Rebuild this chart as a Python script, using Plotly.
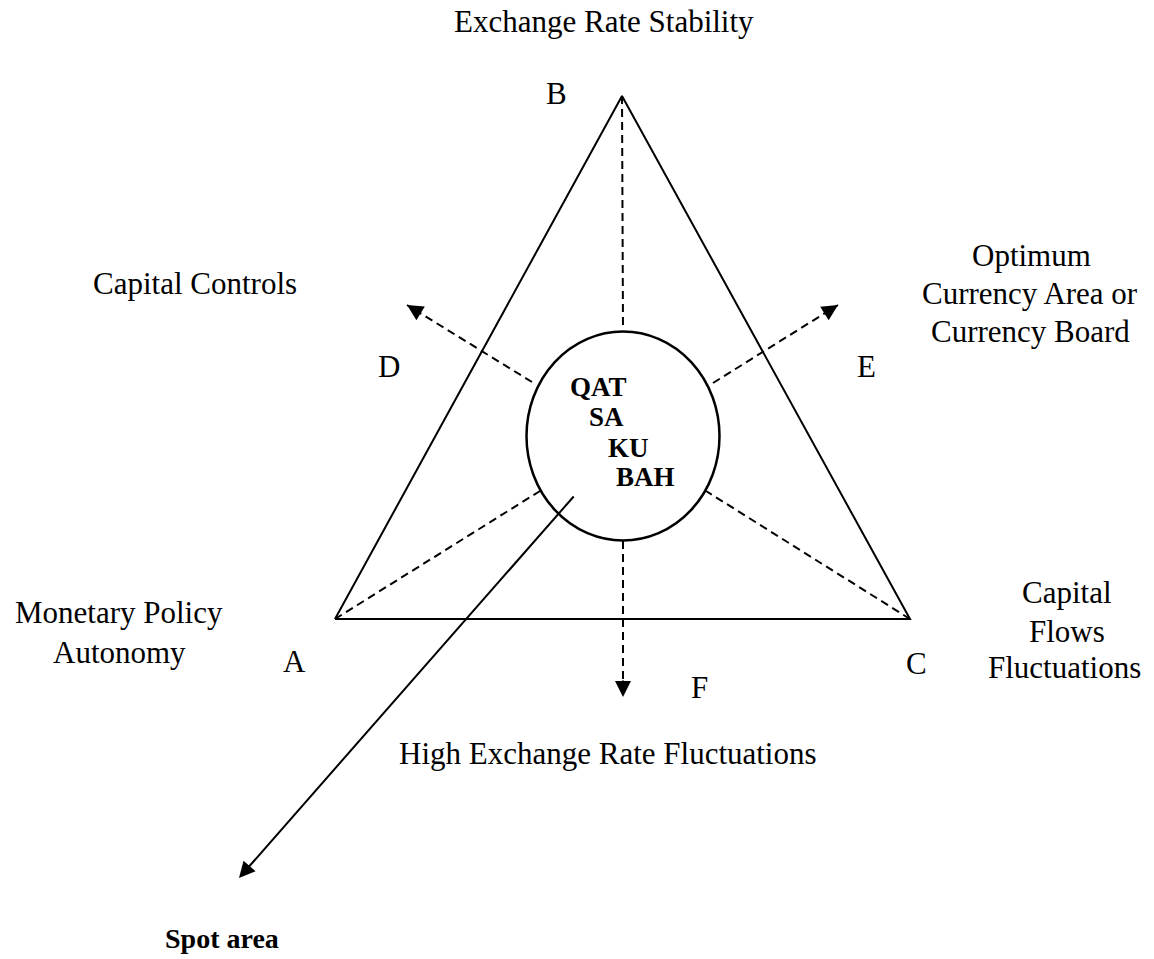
import plotly.graph_objects as go

# Diagram geometry (pixel space: x right, y down)
vertex_names = ["A", "B", "C"]
vertex_x = [335, 622, 910]
vertex_y = [619, 96, 619]

circle_center = [623, 436]
circle_radii = [96.5, 104.5]

# dashed connectors: (x0, y0, x1, y1)
dash_x0 = [622, 623, 335, 910, 532, 713]
dash_y0 = [96, 541, 619, 619, 382, 383]
dash_x1 = [623, 623, 540, 706, 407, 838]
dash_y1 = [330, 697, 491, 491, 305, 305]
dash_arrow = [False, True, False, False, True, True]

spot_start = [575, 495]
spot_end = [239, 878]

# text labels
label_text = ["Exchange Rate Stability", "B", "Capital Controls", "D",
              "Optimum", "Currency Area or", "Currency Board", "E",
              "Monetary Policy", "Autonomy", "A",
              "Capital", "Flows", "Fluctuations", "C",
              "F", "High Exchange Rate Fluctuations"]
label_x = [604, 556, 195, 389, 1031, 1030, 1030, 866,
           119, 119, 294, 1067, 1067, 1064, 916, 699, 608]
label_y = [21, 93, 283, 366, 255, 293, 331, 366,
           612, 652, 661, 592, 631, 667, 663, 687, 753]

country_text = ["QAT", "SA", "KU", "BAH"]
country_x = [598, 606, 628, 645]
country_y = [387, 417, 448, 477]

spot_label = "Spot area"
spot_label_xy = [222, 938]

W, H = 1154, 959
OFF = 8  # page body margin
fig = go.Figure()

# triangle
tri_x = vertex_x + [vertex_x[0]]
tri_y = vertex_y + [vertex_y[0]]
fig.add_trace(go.Scatter(x=tri_x, y=tri_y, mode="lines",
                         line=dict(color="black", width=2), hoverinfo="skip"))

shapes = []
shapes.append(dict(type="circle", xref="x", yref="y",
                   x0=circle_center[0] - circle_radii[0], x1=circle_center[0] + circle_radii[0],
                   y0=circle_center[1] - circle_radii[1], y1=circle_center[1] + circle_radii[1],
                   line=dict(color="black", width=2.5)))
for x0, y0, x1, y1 in zip(dash_x0, dash_y0, dash_x1, dash_y1):
    shapes.append(dict(type="line", xref="x", yref="y", x0=x0, y0=y0, x1=x1, y1=y1,
                       line=dict(color="black", width=2, dash="8px,5px")))

annotations = []
# arrowheads on dashed lines
for x0, y0, x1, y1, has in zip(dash_x0, dash_y0, dash_x1, dash_y1, dash_arrow):
    if not has:
        continue
    dx, dy = x1 - x0, y1 - y0
    L = (dx ** 2 + dy ** 2) ** 0.5
    annotations.append(dict(x=x1, y=y1, ax=x1 - dx / L * 18, ay=y1 - dy / L * 18,
                            xref="x", yref="y", axref="x", ayref="y", text="",
                            showarrow=True, arrowhead=2, arrowsize=1.6, arrowwidth=2,
                            arrowcolor="black"))
# spot-area solid arrow
annotations.append(dict(x=spot_end[0], y=spot_end[1], ax=spot_start[0], ay=spot_start[1],
                        xref="x", yref="y", axref="x", ayref="y", text="",
                        showarrow=True, arrowhead=2, arrowsize=1.6, arrowwidth=2,
                        arrowcolor="black"))

serif = "Liberation Serif, Times New Roman, serif"
for t, x, y in zip(label_text, label_x, label_y):
    annotations.append(dict(x=x, y=y, xref="x", yref="y", text=t, showarrow=False,
                            xanchor="center", yanchor="middle",
                            font=dict(family=serif, size=31, color="black")))
for t, x, y in zip(country_text, country_x, country_y):
    annotations.append(dict(x=x, y=y, xref="x", yref="y", text="<b>" + t + "</b>",
                            showarrow=False, xanchor="center", yanchor="middle",
                            font=dict(family=serif, size=27, color="black")))
annotations.append(dict(x=spot_label_xy[0], y=spot_label_xy[1], xref="x", yref="y",
                        text="<b>" + spot_label + "</b>", showarrow=False,
                        xanchor="center", yanchor="middle",
                        font=dict(family=serif, size=28, color="black")))

fig.update_layout(width=W - OFF, height=H - OFF, margin=dict(l=0, r=0, t=0, b=0),
                  paper_bgcolor="white", plot_bgcolor="white", showlegend=False,
                  shapes=shapes, annotations=annotations,
                  xaxis=dict(range=[OFF, W], visible=False, fixedrange=True),
                  yaxis=dict(range=[H, OFF], visible=False, fixedrange=True))

fig.write_html("out.html")
